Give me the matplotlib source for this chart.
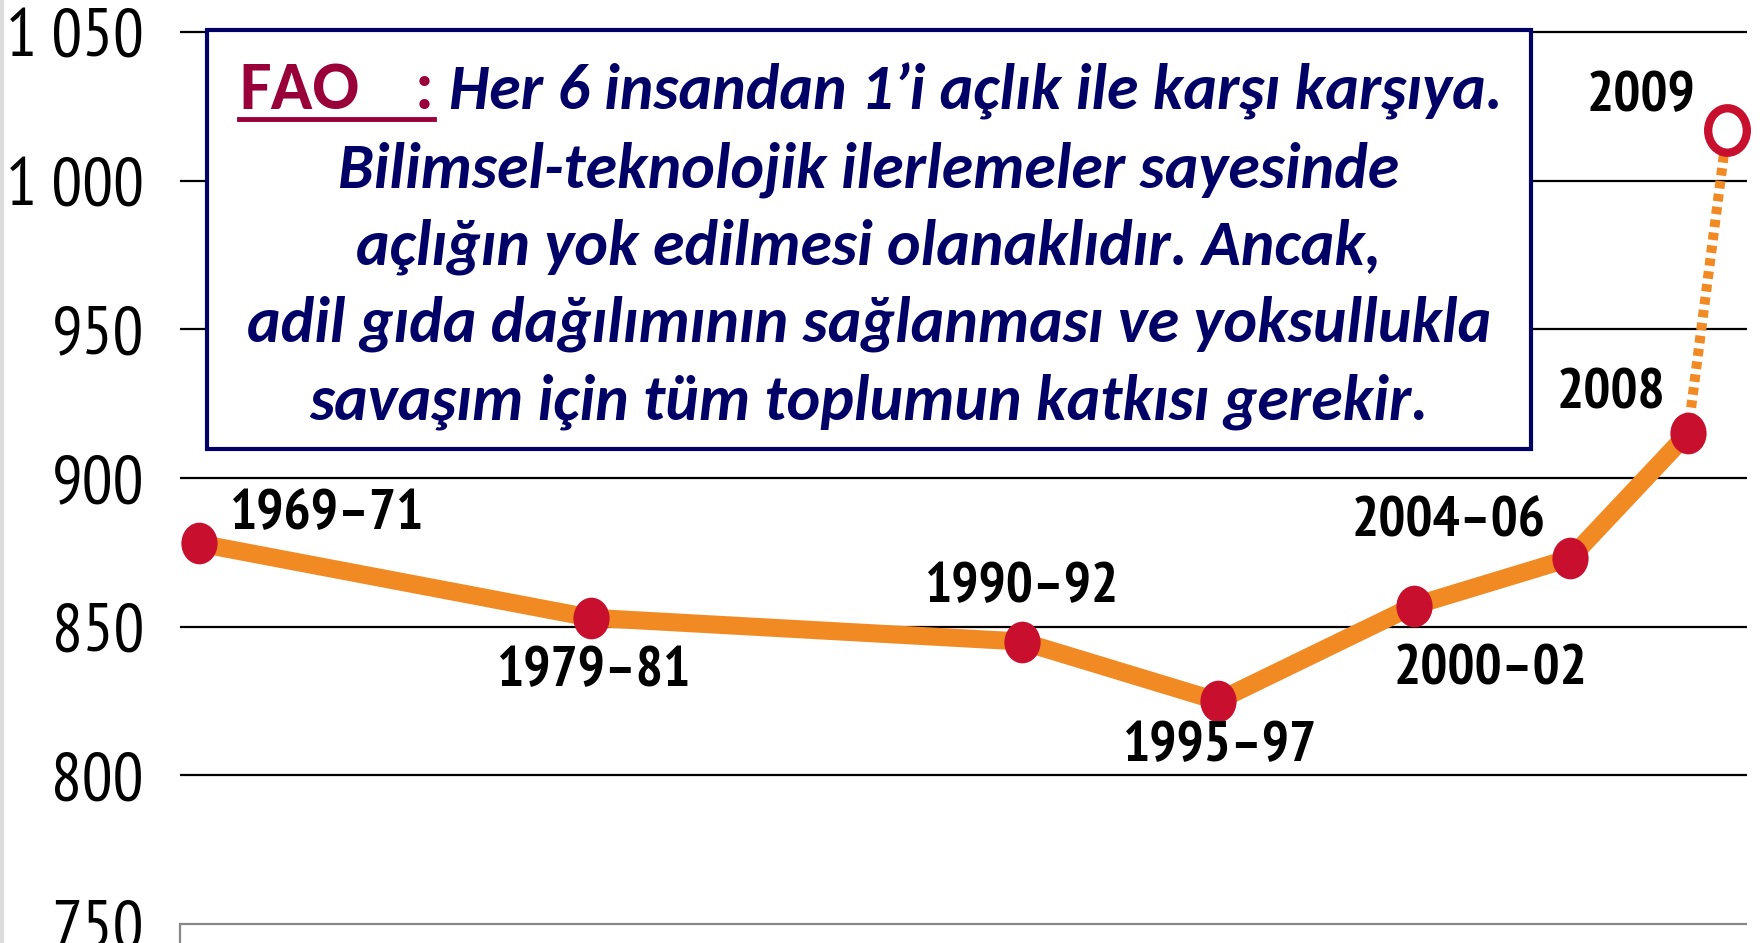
import matplotlib
matplotlib.use("Agg")
import matplotlib.pyplot as plt
from matplotlib.path import Path
from matplotlib.lines import Line2D
from matplotlib.patches import Rectangle

# data (millions of undernourished people)
years = [1970, 1980, 1991, 1996, 2001, 2005, 2008]
hungry = [878, 853, 845, 825, 857, 873, 915]
labels = ["1969–71", "1979–81", "1990–92", "1995–97", "2000–02", "2004–06", "2008"]
year_2009 = 2009
hungry_2009 = 1017
label_2009 = "2009"

yticks = [750, 800, 850, 900, 950, 1000, 1050]
ytick_labels = ["750", "800", "850", "900", "950", "1 000", "1 050"]

# label offsets in pixels (dx, dy)
offsets = [(128, 29), (3, -54), (0, 54), (2, -46), (77, -64), (-122, 36), (-77, 39)]
offset_2009 = (-86, 33)

W, H = 1760, 943
orange = "#F28A24"
crimson = "#C8102E"
navy = "#000066"
fao_red = "#99003A"

num_font = ["PT Sans Narrow", "Asap Condensed", "DejaVu Sans"]
box_font = ["Carlito", "Lato", "DejaVu Sans"]

fig = plt.figure(figsize=(W / 100, H / 100), dpi=100)
fig.patch.set_facecolor("white")

def fx(x):
    return x / W

def fy(y):
    return 1 - y / H

ax = fig.add_axes([fx(180), 0, fx(1747) - fx(180), 1])
ax.set_xlim(1969.52, 2009.51)
ax.set_ylim(743.6, 1060.76)
ax.patch.set_alpha(0)

for v in yticks[1:]:
    ax.axhline(v, color="black", lw=1.6, zorder=1)
ax.axhline(750, color="#888888", lw=1.6, zorder=1)

for s in ["top", "right", "bottom"]:
    ax.spines[s].set_visible(False)
ax.spines["left"].set_bounds(743.6, 750)
ax.spines["left"].set_color("#888888")
ax.spines["left"].set_linewidth(1.6)

ax.set_xticks([])
ax.set_yticks(yticks)
ax.set_yticklabels(ytick_labels, family=num_font, fontsize=43)
ax.tick_params(axis="y", length=0, pad=26)

circ = Path.unit_circle()
ell = Path(circ.vertices * [1, 1.15], circ.codes)

ax.plot([years[-1], year_2009], [hungry[-1], hungry_2009], color=orange, lw=7.2,
        ls=(0, (0.75, 0.55)), dash_capstyle="butt", zorder=2, clip_on=False)
ax.plot(years, hungry, color=orange, lw=13, solid_joinstyle="round", zorder=3)
ax.plot(years, hungry, ls="none", marker=ell, ms=30, mfc=crimson, mec=crimson, mew=0, zorder=4)
ax.plot([year_2009], [hungry_2009], ls="none", marker=ell, ms=32, mfc="white", mec=crimson,
        mew=6, zorder=4, clip_on=False)

point_labels = []
for x, y, lab, (dx, dy) in zip(years, hungry, labels, offsets):
    point_labels.append(ax.annotate(lab, (x, y), xytext=(dx, dy), textcoords="offset pixels",
                                    ha="center", va="center", family=num_font, fontsize=44,
                                    fontweight="bold", zorder=5))
point_labels.append(ax.annotate(label_2009, (year_2009, hungry_2009), xytext=offset_2009,
                                textcoords="offset pixels", ha="center", va="center",
                                family=num_font, fontsize=44, fontweight="bold", zorder=5))

# text box
fig.patches.append(Rectangle((fx(207), fy(449)), fx(1531) - fx(207), fy(30) - fy(449),
                             transform=fig.transFigure, facecolor="white", edgecolor=navy,
                             lw=3, zorder=10))

t_fao = fig.text(fx(239), fy(109), "FAO", color=fao_red, family=box_font, fontweight="bold",
                 fontsize=40, va="baseline", ha="left", zorder=11)
t_col = fig.text(fx(415), fy(109), ":", color=fao_red, family=box_font, fontweight="bold",
                 fontsize=40, va="baseline", ha="left", zorder=11)
fig.lines.append(Line2D([fx(239), fx(434)], [fy(119), fy(119)], transform=fig.transFigure,
                        color=fao_red, lw=3.5, zorder=11))
t_first = fig.text(fx(449), fy(109), "Her 6 insandan 1’i açlık ile karşı karşıya.", color=navy,
                   family=box_font, fontweight="bold", style="italic", fontsize=36,
                   va="baseline", ha="left", zorder=11)

lines = ["Bilimsel-teknolojik ilerlemeler sayesinde",
         "açlığın yok edilmesi olanaklıdır. Ancak,",
         "adil gıda dağılımının sağlanması ve yoksullukla",
         "savaşım için tüm toplumun katkısı gerekir."]
box_lines = []
for i, t in enumerate(lines):
    box_lines.append(fig.text(fx(869), fy(187 + 77.5 * i), t, color=navy, family=box_font,
                              fontweight="bold", style="italic", fontsize=36, va="baseline",
                              ha="center", zorder=11))

fig.lines.append(Line2D([fx(2), fx(2)], [0, 1], transform=fig.transFigure, color="#dddddd", lw=3))

# scale font sizes so the text widths match the reference
fig.canvas.draw()
r = fig.canvas.get_renderer()

def width(t):
    return t.get_window_extent(r).width

s = 1244 / width(box_lines[2]) * box_lines[2].get_fontsize()
for t in box_lines + [t_first]:
    t.set_fontsize(s)
f = 120 / width(t_fao) * t_fao.get_fontsize()
t_fao.set_fontsize(f)
t_col.set_fontsize(f)

s = 194 / width(point_labels[0]) * point_labels[0].get_fontsize()
for t in point_labels:
    t.set_fontsize(s)

tl = ax.get_yticklabels()
s = 138 / width(tl[-1]) * tl[-1].get_fontsize()
for t in tl:
    t.set_fontsize(s)

fig.savefig("out.png", dpi=100)
